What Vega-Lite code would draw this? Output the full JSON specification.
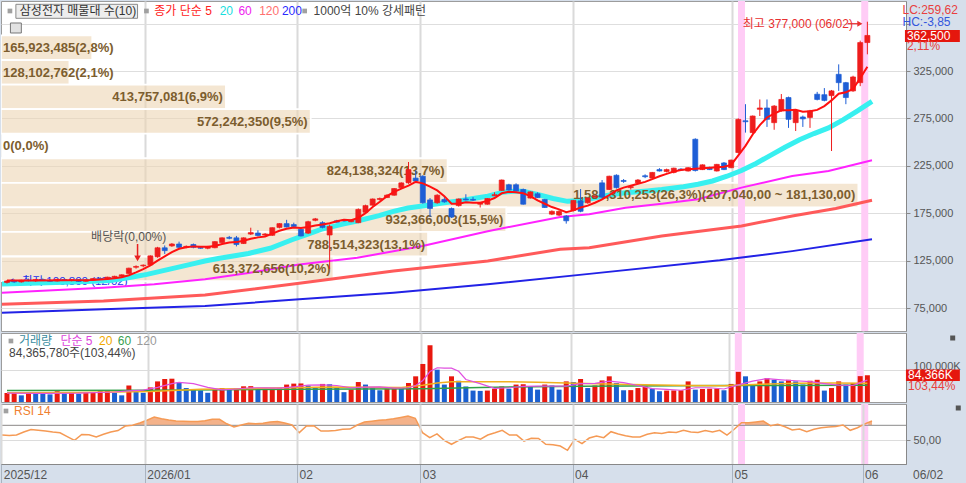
{
"$schema":"https://vega.github.io/schema/vega-lite/v6.json",
"background":"#d6dfeb",
"padding":0,
"spacing":2,
"bounds":"flush",
"config":{"view":{"stroke":"#9c9c9c","fill":"white"},"font":"Liberation Sans, Noto Sans CJK KR, sans-serif"},
"datasets":{
"one":[{"a":1}],
"ev":[{"i":102},{"i":119}],
"vp":[
{"lo":336590,"hi":362500,"pct":2.8,"lab":"165,923,485(2,8%)"},
{"lo":310680,"hi":336590,"pct":2.1,"lab":"128,102,762(2,1%)"},
{"lo":284770,"hi":310680,"pct":6.9,"lab":"413,757,081(6,9%)"},
{"lo":258860,"hi":284770,"pct":9.5,"lab":"572,242,350(9,5%)"},
{"lo":232950,"hi":258860,"pct":0,"lab":"0(0,0%)"},
{"lo":207040,"hi":232950,"pct":13.7,"lab":"824,138,324(13,7%)"},
{"lo":181130,"hi":207040,"pct":26.3,"lab":"1,584,310,253(26,3%)(207,040,00 ~ 181,130,00)"},
{"lo":155220,"hi":181130,"pct":15.5,"lab":"932,366,003(15,5%)"},
{"lo":129310,"hi":155220,"pct":13.1,"lab":"788,514,323(13,1%)"},
{"lo":103400,"hi":129310,"pct":10.2,"lab":"613,372,656(10,2%)"}
],
"d":[
{"i":0,"o":102000,"h":104500,"l":100800,"c":103500,"v":28000,"r":57},
{"i":1,"o":103500,"h":105000,"l":101500,"c":102500,"v":29000,"r":56.5},
{"i":2,"o":102500,"h":104800,"l":101800,"c":104200,"v":21000,"r":57},
{"i":3,"o":104500,"h":106000,"l":103000,"c":103800,"v":30000,"r":61},
{"i":4,"o":103800,"h":105500,"l":102600,"c":105000,"v":27000,"r":64.5},
{"i":5,"o":105000,"h":106200,"l":103500,"c":104000,"v":26500,"r":63.5},
{"i":6,"o":104000,"h":105200,"l":102800,"c":103200,"v":24000,"r":62.5},
{"i":7,"o":103500,"h":105800,"l":103000,"c":105200,"v":34000,"r":61},
{"i":8,"o":105000,"h":106000,"l":103800,"c":104300,"v":27000,"r":60},
{"i":9,"o":104300,"h":105500,"l":103200,"c":104800,"v":29000,"r":55},
{"i":10,"o":104800,"h":105600,"l":102500,"c":103000,"v":26000,"r":50},
{"i":11,"o":103200,"h":105000,"l":102800,"c":104600,"v":29000,"r":57.8},
{"i":12,"o":104600,"h":106500,"l":104000,"c":106000,"v":31000,"r":57.5},
{"i":13,"o":106000,"h":107500,"l":105200,"c":105600,"v":34000,"r":54.4},
{"i":14,"o":105800,"h":108000,"l":105500,"c":107500,"v":36000,"r":58},
{"i":15,"o":107500,"h":109000,"l":106500,"c":108400,"v":29000,"r":61},
{"i":16,"o":108500,"h":110500,"l":107800,"c":110000,"v":21000,"r":63},
{"i":17,"o":111500,"h":117500,"l":111000,"c":117000,"v":52000,"r":69},
{"i":18,"o":118000,"h":120000,"l":116500,"c":118800,"v":36000,"r":70},
{"i":19,"o":119500,"h":121000,"l":118000,"c":120200,"v":29000,"r":73},
{"i":20,"o":120500,"h":130500,"l":120000,"c":130000,"v":46000,"r":76.7},
{"i":21,"o":129000,"h":139500,"l":128000,"c":138500,"v":65000,"r":81},
{"i":22,"o":138500,"h":141000,"l":132000,"c":135500,"v":72600,"r":78.7},
{"i":23,"o":140500,"h":143500,"l":139500,"c":142500,"v":73500,"r":77},
{"i":24,"o":142500,"h":145000,"l":137000,"c":139000,"v":62000,"r":75.7},
{"i":25,"o":139000,"h":141000,"l":138000,"c":140000,"v":44000,"r":75.5},
{"i":26,"o":142000,"h":143000,"l":138000,"c":139000,"v":39000,"r":75},
{"i":27,"o":139000,"h":140000,"l":137500,"c":138000,"v":36000,"r":75},
{"i":28,"o":138000,"h":140500,"l":137000,"c":139800,"v":29000,"r":76},
{"i":29,"o":138600,"h":145500,"l":138000,"c":145000,"v":39000,"r":78},
{"i":30,"o":144000,"h":149500,"l":143500,"c":149000,"v":44000,"r":78},
{"i":31,"o":149500,"h":151000,"l":147500,"c":148500,"v":39000,"r":72},
{"i":32,"o":149000,"h":151000,"l":140000,"c":142000,"v":44000,"r":67.7},
{"i":33,"o":143000,"h":149500,"l":142500,"c":149000,"v":49500,"r":70.4},
{"i":34,"o":153000,"h":159700,"l":152000,"c":154500,"v":50000,"r":72.7},
{"i":35,"o":154000,"h":157000,"l":150500,"c":151500,"v":39000,"r":72},
{"i":36,"o":152000,"h":154000,"l":150500,"c":153000,"v":42000,"r":72.7},
{"i":37,"o":151700,"h":160000,"l":151000,"c":159700,"v":42500,"r":74.5},
{"i":38,"o":160000,"h":164500,"l":159000,"c":164000,"v":43000,"r":75},
{"i":39,"o":164000,"h":168000,"l":160000,"c":160500,"v":55000,"r":73},
{"i":40,"o":163000,"h":165000,"l":159500,"c":161000,"v":58000,"r":70.4},
{"i":41,"o":158000,"h":159000,"l":150500,"c":151000,"v":58500,"r":60.2},
{"i":42,"o":154000,"h":167000,"l":153000,"c":166000,"v":52000,"r":69},
{"i":43,"o":167500,"h":170000,"l":166500,"c":169000,"v":44000,"r":69.5},
{"i":44,"o":165000,"h":166500,"l":159000,"c":160000,"v":57000,"r":62.4},
{"i":45,"o":152000,"h":163000,"l":116000,"c":161000,"v":56000,"r":62.4},
{"i":46,"o":167000,"h":168000,"l":165000,"c":165500,"v":44000,"r":63},
{"i":47,"o":167500,"h":168500,"l":166000,"c":166800,"v":31000,"r":64.8},
{"i":48,"o":166000,"h":168500,"l":165500,"c":167500,"v":39000,"r":65},
{"i":49,"o":165000,"h":180000,"l":164500,"c":179000,"v":63000,"r":70.4},
{"i":50,"o":176000,"h":184000,"l":175000,"c":183000,"v":55000,"r":74.4},
{"i":51,"o":183500,"h":190500,"l":183000,"c":190000,"v":44000,"r":75.5},
{"i":52,"o":189500,"h":191500,"l":188500,"c":190500,"v":37000,"r":76.7},
{"i":53,"o":191500,"h":195000,"l":191000,"c":194000,"v":42000,"r":77.5},
{"i":54,"o":194000,"h":201500,"l":193500,"c":201000,"v":44000,"r":78.8},
{"i":55,"o":202000,"h":207500,"l":201500,"c":207000,"v":43000,"r":80.5},
{"i":56,"o":207000,"h":229000,"l":206000,"c":221000,"v":60000,"r":82.4},
{"i":57,"o":212000,"h":220000,"l":207000,"c":209000,"v":81000,"r":79.4},
{"i":58,"o":214000,"h":215000,"l":185000,"c":186000,"v":120000,"r":60.2},
{"i":59,"o":189000,"h":191000,"l":171000,"c":180000,"v":179000,"r":53.5},
{"i":60,"o":186000,"h":195000,"l":185000,"c":194000,"v":102000,"r":58.6},
{"i":61,"o":189500,"h":192000,"l":186000,"c":187000,"v":55000,"r":50},
{"i":62,"o":180000,"h":181000,"l":170000,"c":171000,"v":81000,"r":44.7},
{"i":63,"o":183000,"h":190500,"l":182000,"c":190000,"v":67000,"r":50},
{"i":64,"o":190000,"h":195000,"l":188500,"c":189000,"v":49000,"r":54.4},
{"i":65,"o":189500,"h":192000,"l":188000,"c":188800,"v":36000,"r":54.4},
{"i":66,"o":184500,"h":186500,"l":181000,"c":186000,"v":35000,"r":51.5},
{"i":67,"o":184500,"h":191000,"l":184000,"c":190500,"v":36000,"r":57},
{"i":68,"o":193500,"h":197000,"l":193000,"c":194500,"v":42000,"r":60},
{"i":69,"o":199000,"h":210500,"l":198500,"c":210000,"v":49000,"r":63.3},
{"i":70,"o":205000,"h":206000,"l":199000,"c":199500,"v":42000,"r":57},
{"i":71,"o":205000,"h":206500,"l":198000,"c":198500,"v":55000,"r":57},
{"i":72,"o":200000,"h":201000,"l":184000,"c":184500,"v":56000,"r":49},
{"i":73,"o":191000,"h":198000,"l":190500,"c":197500,"v":49000,"r":52.7},
{"i":74,"o":195500,"h":197000,"l":191000,"c":191500,"v":39000,"r":52.5},
{"i":75,"o":189500,"h":190000,"l":180500,"c":181000,"v":55000,"r":44.7},
{"i":76,"o":174000,"h":178000,"l":173000,"c":177000,"v":52000,"r":44},
{"i":77,"o":173000,"h":178000,"l":172000,"c":177000,"v":39000,"r":42.4},
{"i":78,"o":172000,"h":173000,"l":164000,"c":167000,"v":65000,"r":36.7},
{"i":79,"o":178000,"h":189000,"l":177000,"c":188500,"v":63000,"r":51.3},
{"i":80,"o":188000,"h":200500,"l":176000,"c":177000,"v":72600,"r":45.5},
{"i":81,"o":186000,"h":191500,"l":185000,"c":191000,"v":44000,"r":53},
{"i":82,"o":192000,"h":194000,"l":191500,"c":193000,"v":52000,"r":55.7},
{"i":83,"o":207000,"h":210000,"l":190500,"c":192000,"v":68000,"r":53.5},
{"i":84,"o":200000,"h":214500,"l":199500,"c":214000,"v":81000,"r":61.5},
{"i":85,"o":215000,"h":216000,"l":201000,"c":202000,"v":60000,"r":58.4},
{"i":86,"o":209500,"h":211000,"l":207000,"c":208500,"v":37000,"r":56},
{"i":87,"o":202000,"h":204500,"l":200000,"c":203000,"v":37500,"r":54.4},
{"i":88,"o":207000,"h":211000,"l":206000,"c":210000,"v":44000,"r":54.4},
{"i":89,"o":214500,"h":216000,"l":212000,"c":213500,"v":49000,"r":58},
{"i":90,"o":212000,"h":218500,"l":211500,"c":218000,"v":42000,"r":60.2},
{"i":91,"o":221000,"h":222500,"l":219000,"c":219500,"v":34000,"r":59},
{"i":92,"o":219000,"h":222000,"l":218000,"c":221000,"v":36000,"r":61},
{"i":93,"o":218000,"h":223000,"l":217000,"c":222500,"v":36500,"r":60.5},
{"i":94,"o":221500,"h":222500,"l":219500,"c":220500,"v":37000,"r":63.3},
{"i":95,"o":219500,"h":223500,"l":219000,"c":223000,"v":65000,"r":61},
{"i":96,"o":253000,"h":254000,"l":219000,"c":220000,"v":39000,"r":60.5},
{"i":97,"o":221000,"h":226500,"l":220500,"c":226000,"v":41000,"r":63},
{"i":98,"o":223000,"h":224000,"l":220500,"c":221000,"v":42000,"r":61},
{"i":99,"o":219500,"h":227000,"l":219000,"c":226500,"v":42500,"r":63.3},
{"i":100,"o":228000,"h":229000,"l":220500,"c":221000,"v":37000,"r":56.9},
{"i":101,"o":223000,"h":231500,"l":222500,"c":231000,"v":57000,"r":64.7},
{"i":102,"o":239000,"h":275000,"l":238000,"c":274000,"v":95000,"r":73.5},
{"i":103,"o":272500,"h":290000,"l":260000,"c":271500,"v":81000,"r":73.5},
{"i":104,"o":260000,"h":278000,"l":259000,"c":277500,"v":53000,"r":74.5},
{"i":105,"o":284600,"h":295000,"l":277500,"c":286000,"v":65000,"r":75.7},
{"i":106,"o":286000,"h":295000,"l":266000,"c":274000,"v":75000,"r":69.5},
{"i":107,"o":270500,"h":289000,"l":263000,"c":288000,"v":70000,"r":71.5},
{"i":108,"o":283000,"h":300700,"l":282000,"c":295000,"v":65000,"r":68},
{"i":109,"o":297000,"h":298000,"l":265000,"c":274000,"v":70000,"r":63.7},
{"i":110,"o":270500,"h":284000,"l":261700,"c":283000,"v":65000,"r":65},
{"i":111,"o":276500,"h":278000,"l":266000,"c":274500,"v":55000,"r":61.5},
{"i":112,"o":276000,"h":284000,"l":265000,"c":283000,"v":67000,"r":64.7},
{"i":113,"o":300500,"h":303000,"l":294000,"c":295000,"v":70000,"r":66.7},
{"i":114,"o":300000,"h":307000,"l":293000,"c":294000,"v":36000,"r":67.6},
{"i":115,"o":299000,"h":305000,"l":240600,"c":304000,"v":44000,"r":68.5},
{"i":116,"o":321500,"h":332000,"l":304000,"c":312700,"v":65000,"r":70.4},
{"i":117,"o":312700,"h":313500,"l":290000,"c":297000,"v":55000,"r":63.3},
{"i":118,"o":304000,"h":320000,"l":303000,"c":318700,"v":60000,"r":66.7},
{"i":119,"o":312700,"h":357000,"l":309000,"c":355000,"v":81560,"r":71.8},
{"i":120,"o":355000,"h":377000,"l":342600,"c":362500,"v":84366,"r":75.7}
],
"m5":[{"i":0,"p":104000},{"i":4,"p":104000},{"i":8,"p":104200},{"i":12,"p":104500},{"i":14,"p":105500},{"i":15,"p":106500},{"i":16,"p":107500},{"i":17,"p":109500},{"i":18,"p":112500},{"i":19,"p":116000},{"i":20,"p":120000},{"i":21,"p":125000},{"i":22,"p":129500},{"i":23,"p":134000},{"i":24,"p":137500},{"i":25,"p":139000},{"i":26,"p":140000},{"i":27,"p":139500},{"i":28,"p":139500},{"i":29,"p":140500},{"i":30,"p":142500},{"i":31,"p":144000},{"i":32,"p":144500},{"i":33,"p":146000},{"i":34,"p":148000},{"i":35,"p":149500},{"i":36,"p":150500},{"i":37,"p":153500},{"i":38,"p":156500},{"i":39,"p":158500},{"i":40,"p":160000},{"i":41,"p":159500},{"i":42,"p":160500},{"i":43,"p":162000},{"i":44,"p":163000},{"i":45,"p":164500},{"i":46,"p":166500},{"i":47,"p":168000},{"i":48,"p":167500},{"i":49,"p":170000},{"i":50,"p":175000},{"i":51,"p":181500},{"i":52,"p":187000},{"i":53,"p":193000},{"i":54,"p":197500},{"i":55,"p":201000},{"i":56,"p":204000},{"i":57,"p":208000},{"i":58,"p":206500},{"i":59,"p":203000},{"i":60,"p":199000},{"i":61,"p":193000},{"i":62,"p":185000},{"i":63,"p":185000},{"i":64,"p":186500},{"i":65,"p":186000},{"i":66,"p":186000},{"i":67,"p":188000},{"i":68,"p":191000},{"i":69,"p":196000},{"i":70,"p":197500},{"i":71,"p":197000},{"i":72,"p":196000},{"i":73,"p":193000},{"i":74,"p":188500},{"i":75,"p":185000},{"i":76,"p":181500},{"i":77,"p":179000},{"i":78,"p":176000},{"i":79,"p":178000},{"i":80,"p":181000},{"i":81,"p":183000},{"i":82,"p":186000},{"i":83,"p":189500},{"i":84,"p":194000},{"i":85,"p":199000},{"i":86,"p":202000},{"i":87,"p":204000},{"i":88,"p":206000},{"i":89,"p":208000},{"i":90,"p":211000},{"i":91,"p":214000},{"i":92,"p":216500},{"i":93,"p":219000},{"i":94,"p":220500},{"i":95,"p":221300},{"i":96,"p":222000},{"i":97,"p":222500},{"i":98,"p":223000},{"i":99,"p":223500},{"i":100,"p":224000},{"i":101,"p":226000},{"i":102,"p":236000},{"i":103,"p":246000},{"i":104,"p":258000},{"i":105,"p":268000},{"i":106,"p":276000},{"i":107,"p":280000},{"i":108,"p":283500},{"i":109,"p":283500},{"i":110,"p":284000},{"i":111,"p":282000},{"i":112,"p":282500},{"i":113,"p":284000},{"i":114,"p":288000},{"i":115,"p":294000},{"i":116,"p":301000},{"i":117,"p":302500},{"i":118,"p":306000},{"i":119,"p":317500},{"i":120,"p":329500}],
"m20":[{"i":0,"p":100300},{"i":5,"p":101400},{"i":10,"p":102400},{"i":15,"p":104000},{"i":18,"p":107700},{"i":20,"p":110500},{"i":23,"p":115800},{"i":26,"p":121000},{"i":28,"p":124600},{"i":30,"p":127400},{"i":34,"p":132500},{"i":37,"p":138000},{"i":40,"p":147000},{"i":42,"p":152500},{"i":44,"p":158000},{"i":47,"p":163500},{"i":49,"p":166800},{"i":52,"p":172500},{"i":54,"p":177000},{"i":56,"p":180500},{"i":58,"p":182600},{"i":61,"p":186000},{"i":63,"p":188000},{"i":65,"p":190500},{"i":67,"p":193000},{"i":69,"p":197000},{"i":71,"p":198500},{"i":72,"p":198000},{"i":74,"p":194500},{"i":76,"p":190500},{"i":78,"p":187500},{"i":80,"p":188500},{"i":82,"p":191500},{"i":84,"p":194500},{"i":86,"p":196600},{"i":89,"p":198500},{"i":91,"p":200000},{"i":94,"p":203000},{"i":96,"p":205500},{"i":98,"p":209000},{"i":100,"p":214000},{"i":102,"p":220000},{"i":104,"p":227500},{"i":106,"p":236000},{"i":108,"p":244500},{"i":110,"p":252500},{"i":112,"p":259000},{"i":114,"p":265000},{"i":116,"p":273500},{"i":118,"p":283000},{"i":120,"p":293000}],
"m60":[{"i":0,"p":91000},{"i":7,"p":93600},{"i":14,"p":96400},{"i":21,"p":100000},{"i":28,"p":105300},{"i":34,"p":112000},{"i":41,"p":121000},{"i":49,"p":128000},{"i":58,"p":140400},{"i":67,"p":156000},{"i":77,"p":171000},{"i":81,"p":173800},{"i":86,"p":180800},{"i":91,"p":185000},{"i":96,"p":189700},{"i":102,"p":202000},{"i":109,"p":214200},{"i":114,"p":219500},{"i":120,"p":230800}],
"m120":[{"i":0,"p":79000},{"i":14,"p":82400},{"i":28,"p":88700},{"i":41,"p":101000},{"i":54,"p":114000},{"i":67,"p":124600},{"i":77,"p":137000},{"i":81,"p":138600},{"i":91,"p":151000},{"i":102,"p":161500},{"i":109,"p":172000},{"i":115,"p":180000},{"i":120,"p":188600}],
"m200":[{"i":0,"p":70000},{"i":14,"p":73600},{"i":28,"p":77000},{"i":41,"p":84200},{"i":54,"p":91000},{"i":67,"p":100000},{"i":81,"p":111000},{"i":99,"p":125300},{"i":109,"p":135000},{"i":120,"p":147500}],
"v5":[{"i":0,"v":28000},{"i":5,"v":27500},{"i":10,"v":28000},{"i":15,"v":31500},{"i":17,"v":35000},{"i":19,"v":37500},{"i":21,"v":46000},{"i":23,"v":58000},{"i":24,"v":62000},{"i":26,"v":58000},{"i":28,"v":46000},{"i":30,"v":38000},{"i":32,"v":41000},{"i":34,"v":45000},{"i":36,"v":44500},{"i":38,"v":43500},{"i":40,"v":48000},{"i":42,"v":53000},{"i":44,"v":54000},{"i":46,"v":52000},{"i":48,"v":45000},{"i":50,"v":47000},{"i":52,"v":48000},{"i":54,"v":44000},{"i":56,"v":45000},{"i":57,"v":52000},{"i":58,"v":68000},{"i":59,"v":96000},{"i":60,"v":108000},{"i":61,"v":107000},{"i":62,"v":107000},{"i":63,"v":97000},{"i":64,"v":71000},{"i":66,"v":58000},{"i":68,"v":43000},{"i":70,"v":45000},{"i":72,"v":49000},{"i":74,"v":50000},{"i":76,"v":50000},{"i":78,"v":50000},{"i":80,"v":58000},{"i":82,"v":59000},{"i":84,"v":66000},{"i":86,"v":61000},{"i":88,"v":52000},{"i":90,"v":42000},{"i":92,"v":40000},{"i":94,"v":37000},{"i":96,"v":45000},{"i":98,"v":45000},{"i":100,"v":41000},{"i":102,"v":54000},{"i":104,"v":66000},{"i":106,"v":74000},{"i":108,"v":70000},{"i":110,"v":67000},{"i":112,"v":64000},{"i":114,"v":58000},{"i":116,"v":53000},{"i":118,"v":52000},{"i":119,"v":61000},{"i":120,"v":69000}],
"v20":[{"i":0,"v":29000},{"i":10,"v":30000},{"i":20,"v":33000},{"i":27,"v":40000},{"i":35,"v":43000},{"i":45,"v":47000},{"i":55,"v":46000},{"i":58,"v":53000},{"i":60,"v":60000},{"i":62,"v":64000},{"i":66,"v":64000},{"i":70,"v":64000},{"i":74,"v":62000},{"i":78,"v":60000},{"i":85,"v":56000},{"i":95,"v":52000},{"i":100,"v":51000},{"i":105,"v":56000},{"i":110,"v":59000},{"i":115,"v":60000},{"i":120,"v":59000}],
"v60":[{"i":0,"v":36000},{"i":20,"v":37000},{"i":40,"v":40000},{"i":58,"v":42000},{"i":66,"v":46000},{"i":80,"v":50000},{"i":100,"v":52000},{"i":120,"v":53000}]
},
"vconcat":[
{
"width":905,"height":330,
"resolve":{"scale":{"x":"independent"}},
"layer":[
{"data":{"name":"vp"},
 "mark":{"type":"rect","fill":"#edd5b4","fillOpacity":0.6,"stroke":"white","strokeWidth":1.8,"clip":true},
 "encoding":{
  "x":{"field":"pct","type":"quantitative","scale":{"domain":[0,27.76],"nice":false,"zero":false},"axis":null},
  "x2":{"datum":0},
  "y":{"field":"lo","type":"quantitative","scale":{"domain":[50740,398840],"nice":false,"zero":false},
       "axis":{"orient":"right","values":[75000,100000,125000,150000,175000,200000,225000,250000,275000,300000,325000,350000,375000],"labelExpr":"datum.value > 330000 ? '' : format(datum.value, ',')","grid":true,"gridColor":"#dedede","tickSize":4,"tickColor":"#888888","domain":true,"domainColor":"#888888","labels":true,"ticks":true,"labelColor":"#555555","labelFontSize":11,"labelPadding":3,"minExtent":61,"maxExtent":61,"title":null}},
  "y2":{"field":"hi"}}},
{"layer":[
 {"data":{"name":"ev"},"mark":{"type":"rule","color":"#ffccf6","strokeWidth":7,"clip":true},
  "encoding":{"x":{"field":"i","type":"quantitative","scale":{"domain":[-0.138,124.69],"nice":false,"zero":false},
   "axis":{"values":[19.7,40.7,57.7,78.7,100.7,118.7],"grid":true,"gridColor":"#dadada","gridWidth":2,"labels":false,"ticks":false,"domain":false,"title":null,"minExtent":0,"maxExtent":0}}}},
 {"data":{"name":"one"},"mark":{"type":"text","text":"최저 100,800 (12/02)","align":"left","baseline":"middle","fontSize":11.5,"color":"#2233ee"},
  "encoding":{"x":{"datum":2.76,"type":"quantitative","scale":{"domain":[-0.138,124.69],"nice":false,"zero":false}},"y":{"datum":102950,"type":"quantitative","scale":{"domain":[50740,398840],"nice":false,"zero":false}}}},
 {"data":{"name":"one"},"mark":{"type":"point","shape":"triangle-left","size":40,"filled":true,"color":"#2233ee","opacity":1},
  "encoding":{"x":{"datum":1.2,"type":"quantitative","scale":{"domain":[-0.138,124.69],"nice":false,"zero":false}},"y":{"datum":102950,"type":"quantitative","scale":{"domain":[50740,398840],"nice":false,"zero":false}}}},
 {"data":{"name":"m200"},"mark":{"type":"line","color":"#2222e6","strokeWidth":2,"clip":true},
  "encoding":{"x":{"field":"i","type":"quantitative","scale":{"domain":[-0.138,124.69],"nice":false,"zero":false}},"y":{"field":"p","type":"quantitative","scale":{"domain":[50740,398840],"nice":false,"zero":false}}}},
 {"data":{"name":"m120"},"mark":{"type":"line","color":"#ff5a5a","strokeWidth":3,"clip":true},
  "encoding":{"x":{"field":"i","type":"quantitative","scale":{"domain":[-0.138,124.69],"nice":false,"zero":false}},"y":{"field":"p","type":"quantitative","scale":{"domain":[50740,398840],"nice":false,"zero":false}}}},
 {"data":{"name":"m60"},"mark":{"type":"line","color":"#ff22ff","strokeWidth":2,"clip":true},
  "encoding":{"x":{"field":"i","type":"quantitative","scale":{"domain":[-0.138,124.69],"nice":false,"zero":false}},"y":{"field":"p","type":"quantitative","scale":{"domain":[50740,398840],"nice":false,"zero":false}}}},
 {"data":{"name":"m20"},"mark":{"type":"line","color":"#38f0f0","strokeWidth":5,"clip":true},
  "encoding":{"x":{"field":"i","type":"quantitative","scale":{"domain":[-0.138,124.69],"nice":false,"zero":false}},"y":{"field":"p","type":"quantitative","scale":{"domain":[50740,398840],"nice":false,"zero":false}}}}
]},
{"data":{"name":"vp"},"layer":[
 {"transform":[{"filter":"datum.pct >= 5"}],
  "mark":{"type":"text","align":"right","baseline":"middle","dx":-3,"dy":-12,"fontSize":13,"fontWeight":"bold","color":"#7c5d2e"},
  "encoding":{"x":{"field":"pct","type":"quantitative","scale":{"domain":[0,27.76],"nice":false,"zero":false},"axis":null},"y":{"field":"lo","type":"quantitative","scale":{"domain":[50740,398840],"nice":false,"zero":false}},"text":{"field":"lab"}}},
 {"transform":[{"filter":"datum.pct < 5"}],
  "mark":{"type":"text","align":"left","baseline":"middle","dx":2,"dy":-12,"fontSize":13,"fontWeight":"bold","color":"#7c5d2e"},
  "encoding":{"x":{"datum":0,"type":"quantitative","scale":{"domain":[0,27.76],"nice":false,"zero":false},"axis":null},"y":{"field":"lo","type":"quantitative","scale":{"domain":[50740,398840],"nice":false,"zero":false}},"text":{"field":"lab"}}}
]},
{"layer":[
 {"data":{"name":"d"},"mark":{"type":"rule","strokeWidth":1,"clip":true},
  "encoding":{"x":{"field":"i","type":"quantitative","scale":{"domain":[-0.138,124.69],"nice":false,"zero":false},"axis":null},"y":{"field":"l","type":"quantitative","scale":{"domain":[50740,398840],"nice":false,"zero":false}},"y2":{"field":"h"},
   "color":{"condition":{"test":"datum.c >= datum.o","value":"#ee1d1d"},"value":"#1e5ed6"}}},
 {"data":{"name":"d"},"mark":{"type":"bar","orient":"vertical","width":5,"strokeWidth":0.7,"clip":true},
  "encoding":{"x":{"field":"i","type":"quantitative","scale":{"domain":[-0.138,124.69],"nice":false,"zero":false},"axis":null},"y":{"field":"o","type":"quantitative","scale":{"domain":[50740,398840],"nice":false,"zero":false}},"y2":{"field":"c"},
   "fill":{"condition":{"test":"datum.c >= datum.o","value":"#ee1d1d"},"value":"#1e5ed6"},
   "stroke":{"condition":{"test":"datum.c >= datum.o","value":"#ee1d1d"},"value":"#1e5ed6"}}},
 {"data":{"name":"m5"},"mark":{"type":"line","color":"#ff1010","strokeWidth":2,"clip":true},
  "encoding":{"x":{"field":"i","type":"quantitative","scale":{"domain":[-0.138,124.69],"nice":false,"zero":false},"axis":null},"y":{"field":"p","type":"quantitative","scale":{"domain":[50740,398840],"nice":false,"zero":false}}}},
 {"data":{"name":"one"},"mark":{"type":"rect","fill":"#ededed","stroke":"#8a8a8a","strokeWidth":1},
  "encoding":{"x":{"datum":1.24,"type":"quantitative","scale":{"domain":[-0.138,124.69],"nice":false,"zero":false},"axis":null},"x2":{"datum":18.21},"y":{"datum":395360,"type":"quantitative","scale":{"domain":[50740,398840],"nice":false,"zero":false}},"y2":{"datum":380590}}},
 {"data":{"name":"one"},"mark":{"type":"rect","fill":"#e2e2e2","stroke":"#777777","strokeWidth":1},
  "encoding":{"x":{"datum":0.48,"type":"quantitative","scale":{"domain":[-0.138,124.69],"nice":false,"zero":false},"axis":null},"x2":{"datum":2.0},"y":{"datum":375640,"type":"quantitative","scale":{"domain":[50740,398840],"nice":false,"zero":false}},"y2":{"datum":365090}}},
 {"data":{"name":"one"},"mark":{"type":"square","size":22,"color":"#a0a0a0","opacity":1},
  "encoding":{"x":{"datum":0.41,"type":"quantitative","scale":{"domain":[-0.138,124.69],"nice":false,"zero":false},"axis":null},"y":{"datum":388300,"type":"quantitative","scale":{"domain":[50740,398840],"nice":false,"zero":false}}}},
 {"data":{"name":"one"},"mark":{"type":"square","size":22,"color":"#a0a0a0","opacity":1},
  "encoding":{"x":{"datum":19.45,"type":"quantitative","scale":{"domain":[-0.138,124.69],"nice":false,"zero":false},"axis":null},"y":{"datum":388300,"type":"quantitative","scale":{"domain":[50740,398840],"nice":false,"zero":false}}}},
 {"data":{"name":"one"},"mark":{"type":"square","size":22,"color":"#a0a0a0","opacity":1},
  "encoding":{"x":{"datum":41.52,"type":"quantitative","scale":{"domain":[-0.138,124.69],"nice":false,"zero":false},"axis":null},"y":{"datum":388300,"type":"quantitative","scale":{"domain":[50740,398840],"nice":false,"zero":false}}}},
 {"data":{"name":"one"},"mark":{"type":"text","text":"삼성전자 매물대 수(10)","align":"left","baseline":"middle","fontSize":12,"color":"#333333"},
  "encoding":{"x":{"datum":1.79,"type":"quantitative","scale":{"domain":[-0.138,124.69],"nice":false,"zero":false},"axis":null},"y":{"datum":388000,"type":"quantitative","scale":{"domain":[50740,398840],"nice":false,"zero":false}}}},
 {"data":{"name":"one"},"mark":{"type":"text","text":"종가 단순 5","align":"left","baseline":"middle","fontSize":12,"color":"#ff2020"},
  "encoding":{"x":{"datum":20.55,"type":"quantitative","scale":{"domain":[-0.138,124.69],"nice":false,"zero":false},"axis":null},"y":{"datum":388000,"type":"quantitative","scale":{"domain":[50740,398840],"nice":false,"zero":false}}}},
 {"data":{"name":"one"},"mark":{"type":"text","text":"20","align":"left","baseline":"middle","fontSize":12,"color":"#17dede"},
  "encoding":{"x":{"datum":29.66,"type":"quantitative","scale":{"domain":[-0.138,124.69],"nice":false,"zero":false},"axis":null},"y":{"datum":388000,"type":"quantitative","scale":{"domain":[50740,398840],"nice":false,"zero":false}}}},
 {"data":{"name":"one"},"mark":{"type":"text","text":"60","align":"left","baseline":"middle","fontSize":12,"color":"#ee22ee"},
  "encoding":{"x":{"datum":32.28,"type":"quantitative","scale":{"domain":[-0.138,124.69],"nice":false,"zero":false},"axis":null},"y":{"datum":388000,"type":"quantitative","scale":{"domain":[50740,398840],"nice":false,"zero":false}}}},
 {"data":{"name":"one"},"mark":{"type":"text","text":"120","align":"left","baseline":"middle","fontSize":12,"color":"#ff7070"},
  "encoding":{"x":{"datum":35.17,"type":"quantitative","scale":{"domain":[-0.138,124.69],"nice":false,"zero":false},"axis":null},"y":{"datum":388000,"type":"quantitative","scale":{"domain":[50740,398840],"nice":false,"zero":false}}}},
 {"data":{"name":"one"},"mark":{"type":"text","text":"200","align":"left","baseline":"middle","fontSize":12,"color":"#2a2aff"},
  "encoding":{"x":{"datum":38.34,"type":"quantitative","scale":{"domain":[-0.138,124.69],"nice":false,"zero":false},"axis":null},"y":{"datum":388000,"type":"quantitative","scale":{"domain":[50740,398840],"nice":false,"zero":false}}}},
 {"data":{"name":"one"},"mark":{"type":"text","text":"1000억 10% 강세패턴","align":"left","baseline":"middle","fontSize":12,"color":"#444444"},
  "encoding":{"x":{"datum":42.76,"type":"quantitative","scale":{"domain":[-0.138,124.69],"nice":false,"zero":false},"axis":null},"y":{"datum":388000,"type":"quantitative","scale":{"domain":[50740,398840],"nice":false,"zero":false}}}},
 {"data":{"name":"one"},"mark":{"type":"text","text":"배당락(0,00%)","align":"center","baseline":"middle","fontSize":12,"color":"#555555"},
  "encoding":{"x":{"datum":16.97,"type":"quantitative","scale":{"domain":[-0.138,124.69],"nice":false,"zero":false},"axis":null},"y":{"datum":149900,"type":"quantitative","scale":{"domain":[50740,398840],"nice":false,"zero":false}}}},
 {"data":{"name":"one"},"mark":{"type":"rule","color":"#e82020","strokeWidth":1.5},
  "encoding":{"x":{"datum":18.21,"type":"quantitative","scale":{"domain":[-0.138,124.69],"nice":false,"zero":false},"axis":null},"y":{"datum":142510,"type":"quantitative","scale":{"domain":[50740,398840],"nice":false,"zero":false}},"y2":{"datum":129850}}},
 {"data":{"name":"one"},"mark":{"type":"point","shape":"triangle-down","size":45,"filled":true,"color":"#e82020","opacity":1},
  "encoding":{"x":{"datum":18.21,"type":"quantitative","scale":{"domain":[-0.138,124.69],"nice":false,"zero":false},"axis":null},"y":{"datum":127400,"type":"quantitative","scale":{"domain":[50740,398840],"nice":false,"zero":false}}}},
 {"data":{"name":"one"},"mark":{"type":"text","text":"최고 377,000 (06/02)","align":"left","baseline":"middle","fontSize":12,"color":"#e83030"},
  "encoding":{"x":{"datum":102.62,"type":"quantitative","scale":{"domain":[-0.138,124.69],"nice":false,"zero":false},"axis":null},"y":{"datum":374900,"type":"quantitative","scale":{"domain":[50740,398840],"nice":false,"zero":false}}}},
 {"data":{"name":"one"},"mark":{"type":"rule","color":"#e83030","strokeWidth":1.2},
  "encoding":{"x":{"datum":117.24,"type":"quantitative","scale":{"domain":[-0.138,124.69],"nice":false,"zero":false},"axis":null},"x2":{"datum":118.7},"y":{"datum":374900,"type":"quantitative","scale":{"domain":[50740,398840],"nice":false,"zero":false}}}},
 {"data":{"name":"one"},"mark":{"type":"point","shape":"triangle-right","size":35,"filled":true,"color":"#e83030","opacity":1},
  "encoding":{"x":{"datum":118.95,"type":"quantitative","scale":{"domain":[-0.138,124.69],"nice":false,"zero":false},"axis":null},"y":{"datum":374900,"type":"quantitative","scale":{"domain":[50740,398840],"nice":false,"zero":false}}}},
 {"data":{"name":"one"},"mark":{"type":"text","text":"LC:259,62","align":"left","baseline":"middle","fontSize":12,"color":"#e84040"},
  "encoding":{"x":{"datum":124.9,"type":"quantitative","scale":{"domain":[-0.138,124.69],"nice":false,"zero":false},"axis":null},"y":{"datum":389350,"type":"quantitative","scale":{"domain":[50740,398840],"nice":false,"zero":false}}}},
 {"data":{"name":"one"},"mark":{"type":"text","text":"HC:-3,85","align":"left","baseline":"middle","fontSize":12,"color":"#3355dd"},
  "encoding":{"x":{"datum":124.9,"type":"quantitative","scale":{"domain":[-0.138,124.69],"nice":false,"zero":false},"axis":null},"y":{"datum":376690,"type":"quantitative","scale":{"domain":[50740,398840],"nice":false,"zero":false}}}},
 {"data":{"name":"one"},"mark":{"type":"rect","fill":"#e5170e"},
  "encoding":{"x":{"datum":125.24,"type":"quantitative","scale":{"domain":[-0.138,124.69],"nice":false,"zero":false},"axis":null},"x2":{"datum":132.9},"y":{"datum":368130,"type":"quantitative","scale":{"domain":[50740,398840],"nice":false,"zero":false}},"y2":{"datum":355600}}},
 {"data":{"name":"one"},"mark":{"type":"text","text":"362,500","align":"left","baseline":"middle","fontSize":12,"color":"white"},
  "encoding":{"x":{"datum":125.52,"type":"quantitative","scale":{"domain":[-0.138,124.69],"nice":false,"zero":false},"axis":null},"y":{"datum":362000,"type":"quantitative","scale":{"domain":[50740,398840],"nice":false,"zero":false}}}},
 {"data":{"name":"one"},"mark":{"type":"text","text":"2,11%","align":"left","baseline":"middle","fontSize":12,"color":"#e84040"},
  "encoding":{"x":{"datum":125.52,"type":"quantitative","scale":{"domain":[-0.138,124.69],"nice":false,"zero":false},"axis":null},"y":{"datum":351800,"type":"quantitative","scale":{"domain":[50740,398840],"nice":false,"zero":false}}}}
]}
]
},
{
"width":905,"height":69,
"layer":[
 {"data":{"name":"ev"},"mark":{"type":"rule","color":"#ffccf6","strokeWidth":7,"clip":true},
  "encoding":{"x":{"field":"i","type":"quantitative","scale":{"domain":[-0.138,124.69],"nice":false,"zero":false},
   "axis":{"values":[19.7,40.7,57.7,78.7,100.7,118.7],"grid":true,"gridColor":"#dadada","gridWidth":2,"labels":false,"ticks":false,"domain":false,"title":null,"minExtent":0,"maxExtent":0}}}},
 {"data":{"name":"d"},"transform":[{"window":[{"op":"lag","field":"v","as":"pv"}],"sort":[{"field":"i"}]}],
  "mark":{"type":"bar","orient":"vertical","width":5,"clip":true},
  "encoding":{"x":{"field":"i","type":"quantitative","scale":{"domain":[-0.138,124.69],"nice":false,"zero":false}},
   "y":{"field":"v","type":"quantitative","scale":{"domain":[0,217670],"nice":false,"zero":false},
    "axis":{"orient":"right","values":[100000],"labelExpr":"'100,000K'","labelOffset":-4,"grid":true,"gridColor":"#dcdcdc","tickSize":4,"tickColor":"#888888","domain":true,"domainColor":"#888888","labels":true,"ticks":true,"labelColor":"#555555","labelFontSize":11,"labelPadding":3,"minExtent":61,"maxExtent":61,"title":null}},
   "color":{"condition":{"test":"datum.pv == null || datum.v > datum.pv","value":"#e8180e"},"value":"#1a5fd0"}}},
 {"data":{"name":"v60"},"mark":{"type":"line","color":"#30a048","strokeWidth":1.5,"clip":true},
  "encoding":{"x":{"field":"i","type":"quantitative","scale":{"domain":[-0.138,124.69],"nice":false,"zero":false}},"y":{"field":"v","type":"quantitative","scale":{"domain":[0,217670],"nice":false,"zero":false}}}},
 {"data":{"name":"v20"},"mark":{"type":"line","color":"#f0b020","strokeWidth":1.5,"clip":true},
  "encoding":{"x":{"field":"i","type":"quantitative","scale":{"domain":[-0.138,124.69],"nice":false,"zero":false}},"y":{"field":"v","type":"quantitative","scale":{"domain":[0,217670],"nice":false,"zero":false}}}},
 {"data":{"name":"v5"},"mark":{"type":"line","color":"#e050e0","strokeWidth":1.2,"clip":true},
  "encoding":{"x":{"field":"i","type":"quantitative","scale":{"domain":[-0.138,124.69],"nice":false,"zero":false}},"y":{"field":"v","type":"quantitative","scale":{"domain":[0,217670],"nice":false,"zero":false}}}},
 {"data":{"name":"one"},"mark":{"type":"square","size":22,"color":"#a0a0a0","opacity":1},
  "encoding":{"x":{"datum":0.55,"type":"quantitative","scale":{"domain":[-0.138,124.69],"nice":false,"zero":false}},"y":{"datum":192430,"type":"quantitative","scale":{"domain":[0,217670],"nice":false,"zero":false}}}},
 {"data":{"name":"one"},"mark":{"type":"text","text":"거래량","align":"left","baseline":"middle","fontSize":12,"color":"#3a8c9e"},
  "encoding":{"x":{"datum":1.66,"type":"quantitative","scale":{"domain":[-0.138,124.69],"nice":false,"zero":false}},"y":{"datum":192430,"type":"quantitative","scale":{"domain":[0,217670],"nice":false,"zero":false}}}},
 {"data":{"name":"one"},"mark":{"type":"text","text":"단순 5","align":"left","baseline":"middle","fontSize":12,"color":"#dd44dd"},
  "encoding":{"x":{"datum":7.45,"type":"quantitative","scale":{"domain":[-0.138,124.69],"nice":false,"zero":false}},"y":{"datum":192430,"type":"quantitative","scale":{"domain":[0,217670],"nice":false,"zero":false}}}},
 {"data":{"name":"one"},"mark":{"type":"text","text":"20","align":"left","baseline":"middle","fontSize":12,"color":"#f0a800"},
  "encoding":{"x":{"datum":12.83,"type":"quantitative","scale":{"domain":[-0.138,124.69],"nice":false,"zero":false}},"y":{"datum":192430,"type":"quantitative","scale":{"domain":[0,217670],"nice":false,"zero":false}}}},
 {"data":{"name":"one"},"mark":{"type":"text","text":"60","align":"left","baseline":"middle","fontSize":12,"color":"#3aa050"},
  "encoding":{"x":{"datum":15.45,"type":"quantitative","scale":{"domain":[-0.138,124.69],"nice":false,"zero":false}},"y":{"datum":192430,"type":"quantitative","scale":{"domain":[0,217670],"nice":false,"zero":false}}}},
 {"data":{"name":"one"},"mark":{"type":"text","text":"120","align":"left","baseline":"middle","fontSize":12,"color":"#9a9a9a"},
  "encoding":{"x":{"datum":18.07,"type":"quantitative","scale":{"domain":[-0.138,124.69],"nice":false,"zero":false}},"y":{"datum":192430,"type":"quantitative","scale":{"domain":[0,217670],"nice":false,"zero":false}}}},
 {"data":{"name":"one"},"mark":{"type":"text","text":"84,365,780주(103,44%)","align":"left","baseline":"middle","fontSize":12,"color":"#444444"},
  "encoding":{"x":{"datum":0.28,"type":"quantitative","scale":{"domain":[-0.138,124.69],"nice":false,"zero":false}},"y":{"datum":153000,"type":"quantitative","scale":{"domain":[0,217670],"nice":false,"zero":false}}}},
 {"data":{"name":"one"},"mark":{"type":"rect","fill":"#e5170e"},
  "encoding":{"x":{"datum":125.38,"type":"quantitative","scale":{"domain":[-0.138,124.69],"nice":false,"zero":false}},"x2":{"datum":132.9},"y":{"datum":102520,"type":"quantitative","scale":{"domain":[0,217670],"nice":false,"zero":false}},"y2":{"datum":66250}}},
 {"data":{"name":"one"},"mark":{"type":"text","text":"84,366K","align":"left","baseline":"middle","fontSize":12,"color":"white"},
  "encoding":{"x":{"datum":125.66,"type":"quantitative","scale":{"domain":[-0.138,124.69],"nice":false,"zero":false}},"y":{"datum":84230,"type":"quantitative","scale":{"domain":[0,217670],"nice":false,"zero":false}}}},
 {"data":{"name":"one"},"mark":{"type":"text","text":"103,44%","align":"left","baseline":"middle","fontSize":12,"color":"#e84040"},
  "encoding":{"x":{"datum":125.66,"type":"quantitative","scale":{"domain":[-0.138,124.69],"nice":false,"zero":false}},"y":{"datum":48900,"type":"quantitative","scale":{"domain":[0,217670],"nice":false,"zero":false}}}},
 {"data":{"name":"one"},"mark":{"type":"square","size":25,"color":"#555555","opacity":1},
  "encoding":{"x":{"datum":131.9,"type":"quantitative","scale":{"domain":[-0.138,124.69],"nice":false,"zero":false}},"y":{"datum":201890,"type":"quantitative","scale":{"domain":[0,217670],"nice":false,"zero":false}}}}
]
},
{
"width":905,"height":60,
"layer":[
 {"data":{"name":"d"},"mark":{"type":"area","color":"#f4b28a","opacity":1,"clip":true},
  "encoding":{"x":{"field":"i","type":"quantitative","scale":{"domain":[-0.138,124.69],"nice":false,"zero":false},
    "axis":{"orient":"bottom","values":[-0.1,19.7,40.7,57.7,78.7,100.7,118.7],"labelExpr":"datum.value < 1 ? '2025/12' : datum.value < 20 ? '2026/01' : datum.value < 41 ? '02' : datum.value < 58 ? '03' : datum.value < 79 ? '04' : datum.value < 101 ? '05' : '06'","grid":true,"gridColor":"#dadada","gridWidth":2,"ticks":true,"labels":true,"tickSize":20,"tickColor":"#a9b3c0","tickWidth":1,"domain":true,"domainColor":"#888888","labelPadding":-15,"labelAlign":"left","labelBaseline":"top","labelOffset":2,"labelColor":"#555555","labelFontSize":12,"labelFlush":false,"labelOverlap":false,"minExtent":20,"maxExtent":20,"title":null,"zindex":1}},
   "y":{"field":"r","type":"quantitative","scale":{"domain":[18.4,98.4],"nice":false,"zero":false},
    "axis":{"orient":"right","values":[50],"labelExpr":"'50,00'","grid":true,"gridColor":"#dcdcdc","tickSize":4,"tickColor":"#888888","domain":true,"domainColor":"#888888","labels":true,"ticks":true,"labelColor":"#555555","labelFontSize":11,"labelPadding":3,"minExtent":61,"maxExtent":61,"title":null,"zindex":1}},
   "y2":{"datum":70}}},
 {"data":{"name":"one"},"mark":{"type":"rect","color":"white","clip":true},
  "encoding":{"y":{"datum":70,"type":"quantitative","scale":{"domain":[18.4,98.4],"nice":false,"zero":false}},"y2":{"datum":18.4}}},
 {"data":{"name":"ev"},"mark":{"type":"rule","color":"#ffccf6","strokeWidth":7,"clip":true},
  "encoding":{"x":{"field":"i","type":"quantitative","scale":{"domain":[-0.138,124.69],"nice":false,"zero":false}}}},
 {"data":{"name":"one"},"mark":{"type":"rule","color":"#8a8a8a","strokeWidth":1,"clip":true},
  "encoding":{"y":{"datum":70,"type":"quantitative","scale":{"domain":[18.4,98.4],"nice":false,"zero":false}}}},
 {"data":{"name":"d"},"mark":{"type":"line","color":"#f59a55","strokeWidth":1.5,"clip":true},
  "encoding":{"x":{"field":"i","type":"quantitative","scale":{"domain":[-0.138,124.69],"nice":false,"zero":false}},"y":{"field":"r","type":"quantitative","scale":{"domain":[18.4,98.4],"nice":false,"zero":false}}}},
 {"data":{"name":"one"},"mark":{"type":"square","size":22,"color":"#a0a0a0","opacity":1},
  "encoding":{"x":{"datum":0.55,"type":"quantitative","scale":{"domain":[-0.138,124.69],"nice":false,"zero":false}},"y":{"datum":89.07,"type":"quantitative","scale":{"domain":[18.4,98.4],"nice":false,"zero":false}}}},
 {"data":{"name":"one"},"mark":{"type":"text","text":"RSI 14","align":"left","baseline":"middle","fontSize":12,"color":"#f08030"},
  "encoding":{"x":{"datum":1.66,"type":"quantitative","scale":{"domain":[-0.138,124.69],"nice":false,"zero":false}},"y":{"datum":89.07,"type":"quantitative","scale":{"domain":[18.4,98.4],"nice":false,"zero":false}}}},
 {"data":{"name":"one"},"mark":{"type":"text","text":"06/02","align":"left","baseline":"middle","fontSize":12,"color":"#555555"},
  "encoding":{"x":{"datum":125.66,"type":"quantitative","scale":{"domain":[-0.138,124.69],"nice":false,"zero":false}},"y":{"datum":4.4,"type":"quantitative","scale":{"domain":[18.4,98.4],"nice":false,"zero":false}}}},
 {"data":{"name":"one"},"mark":{"type":"square","size":25,"color":"#555555","opacity":1},
  "encoding":{"x":{"datum":131.9,"type":"quantitative","scale":{"domain":[-0.138,124.69],"nice":false,"zero":false}},"y":{"datum":93.07,"type":"quantitative","scale":{"domain":[18.4,98.4],"nice":false,"zero":false}}}}
]
}
]
}
